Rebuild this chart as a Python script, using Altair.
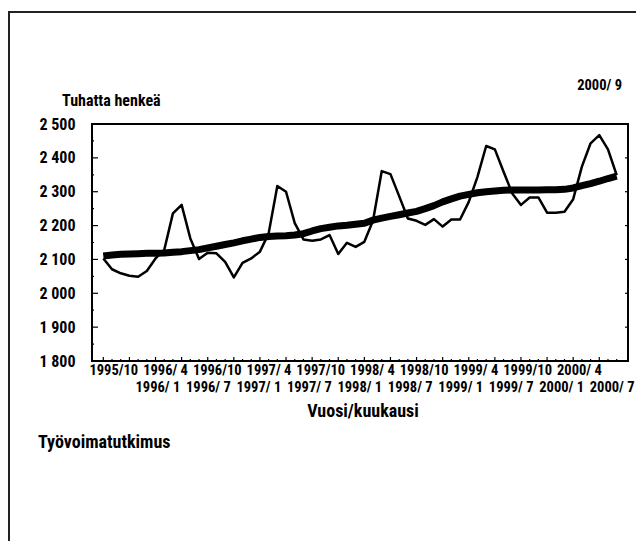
import altair as alt
import pandas as pd

# Monthly data 1995/10 .. 2000/9 (thousand persons)
month_index = list(range(60))
employed = [2103, 2071, 2059, 2052, 2049, 2066, 2103, 2128, 2236, 2261,
            2162, 2101, 2120, 2118, 2093, 2047, 2090, 2103, 2123, 2177,
            2317, 2300, 2207, 2159, 2155, 2159, 2172, 2116, 2149, 2137,
            2152, 2215, 2361, 2352, 2287, 2221, 2214, 2202, 2219, 2197,
            2218, 2218, 2270, 2344, 2435, 2425, 2359, 2295, 2261, 2283,
            2283, 2238, 2238, 2241, 2278, 2374, 2443, 2467, 2425, 2349]
trend = [2110, 2113, 2115, 2116, 2117, 2118, 2118, 2119, 2121, 2123,
         2126, 2129, 2134, 2139, 2144, 2149, 2155, 2160, 2165, 2168,
         2169, 2170, 2172, 2176, 2184, 2191, 2195, 2199, 2201, 2204,
         2207, 2216, 2222, 2227, 2232, 2237, 2242, 2250, 2259, 2270,
         2279, 2287, 2292, 2297, 2300, 2302, 2304, 2305, 2305, 2305,
         2305, 2306, 2306, 2307, 2311, 2318, 2324, 2331, 2339, 2346]

x_tick_values = list(range(0, 60, 3))
x_tick_labels = ["1995/10", "1996/ 1", "1996/ 4", "1996/ 7", "1996/10",
                 "1997/ 1", "1997/ 4", "1997/ 7", "1997/10", "1998/ 1",
                 "1998/ 4", "1998/ 7", "1998/10", "1999/ 1", "1999/ 4",
                 "1999/ 7", "1999/10", "2000/ 1", "2000/ 4", "2000/ 7"]
y_tick_values = [1800, 1900, 2000, 2100, 2200, 2300, 2400, 2500]
y_tick_labels = ["1 800", "1 900", "2 000", "2 100", "2 200", "2 300", "2 400", "2 500"]
y_minor_values = [1850, 1950, 2050, 2150, 2250, 2350, 2450]

y_title = "Tuhatta henkeä"
x_title = "Vuosi/kuukausi"
period_text = "2000/ 9"
source_text = "Työvoimatutkimus"

W, H = 536, 237
FONT = ("Liberation Sans Narrow, Noto Sans Condensed, Roboto Condensed, "
        "DejaVu Sans Condensed, Open Sans Condensed, sans-serif")

df = pd.DataFrame({"i": month_index, "employed": employed, "trend": trend})
df["major"] = df["i"] % 3 == 0
ymaj = pd.DataFrame({"v": y_tick_values})
ymin = pd.DataFrame({"v": y_minor_values})

xs = alt.Scale(domain=[-1.3, 60.3], nice=False, zero=False)
ys = alt.Scale(domain=[1800, 2500], nice=False, zero=False)

xlab_js = "[" + ",".join("'%s'" % s for s in x_tick_labels) + "]"
ylab_js = "[" + ",".join("'%s'" % s for s in y_tick_labels) + "]"

# staggered labels: second row sits further down and drifts right as in the original print
x_axis = alt.Axis(
    values=x_tick_values,
    labelExpr=xlab_js + "[round(datum.value/3)]",
    title=None, ticks=False, tickSize=0, domain=False, grid=False,
    labelFont=FONT, labelFontSize=14.5, labelFontWeight="bold", labelColor="black",
    labelOverlap=False, labelFlush=False, labelBound=False, labelAngle=0,
    labelBaseline="top",
    labelPadding={"condition": {"test": "datum.value % 6 === 3", "value": 19}, "value": 2},
    labelOffset=alt.ExprRef(
        "datum.value % 6 === 3 ? 28 - (datum.value - 3) * 0.29 : 10 - datum.value * 0.08"),
)
y_axis = alt.Axis(
    values=y_tick_values,
    labelExpr=ylab_js + "[round((datum.value-1800)/100)]",
    title=None, ticks=False, tickSize=0, domain=False, grid=False,
    labelFont=FONT, labelFontSize=16, labelFontWeight="bold", labelColor="black",
    labelPadding=17, labelOverlap=False, labelFlush=False,
)

XA = lambda f: alt.X(f, scale=xs, axis=x_axis)
YA = lambda f: alt.Y(f, scale=ys, axis=y_axis)

base = alt.Chart(df)

thin = base.mark_line(color="black", strokeWidth=2.5, strokeJoin="round").encode(
    x=XA("i:Q"), y=YA("employed:Q"))
thick = base.mark_line(color="black", strokeWidth=7, strokeCap="butt", strokeJoin="round").encode(
    x=XA("i:Q"), y=YA("trend:Q"))

# inward tick marks on the x axis
xt_major = base.transform_filter("datum.major").mark_rule(color="black", strokeWidth=1.2).encode(
    x=XA("i:Q"), y=alt.value(H), y2=alt.value(H - 4))
xt_minor = base.transform_filter("!datum.major").mark_rule(color="black", strokeWidth=1.2).encode(
    x=XA("i:Q"), y=alt.value(H), y2=alt.value(H - 2))
# inward tick marks on the y axis (left and right)
yt_major = alt.Chart(ymaj).mark_rule(color="black", strokeWidth=1.2).encode(
    y=YA("v:Q"), x=alt.value(0), x2=alt.value(6))
yt_minor = alt.Chart(ymin).mark_rule(color="black", strokeWidth=1.2).encode(
    y=YA("v:Q"), x=alt.value(0), x2=alt.value(2))
yt_right = alt.Chart(ymaj).mark_rule(color="black", strokeWidth=1.2).encode(
    y=YA("v:Q"), x=alt.value(W), x2=alt.value(W - 3))

# outer page frame (left and top edges)
frame_left = alt.Chart(pd.DataFrame({"a": [0]})).mark_rule(color="#222", strokeWidth=2).encode(
    x=alt.value(-83), y=alt.value(-112), y2=alt.value(H + 180))
frame_top = alt.Chart(pd.DataFrame({"a": [0]})).mark_rule(color="#222", strokeWidth=2).encode(
    x=alt.value(-84), x2=alt.value(W + 8), y=alt.value(-112))


def label(text, x, y, align, size=16):
    return alt.Chart(pd.DataFrame({"t": [text]})).mark_text(
        font=FONT, fontSize=size, fontWeight="bold", color="black",
        align=align, baseline="middle").encode(
        x=alt.value(x), y=alt.value(y), text="t:N")


texts = [
    label(y_title, -30, -23, "left"),
    label(period_text, 530, -38, "right", 14.5),
    label(x_title, 271, 288, "center", 18),
    label(source_text, -54, 319, "left", 18),
]

chart = alt.layer(
    thin, frame_left, frame_top, xt_major, xt_minor, yt_major, yt_minor, yt_right,
    thick, *texts
).properties(
    width=W, height=H,
    autosize=alt.AutoSizeParams(type="none"),
    padding={"left": 84, "top": 116, "right": 8, "bottom": 180},
    background="white",
).configure_view(stroke="black", strokeWidth=2).configure_axis(labelOverlap=False)

chart.save("out.html", embed_options={"renderer": "svg", "actions": False})
